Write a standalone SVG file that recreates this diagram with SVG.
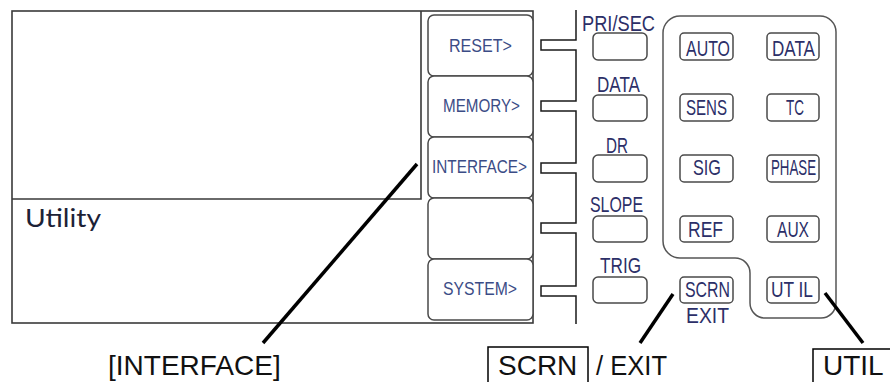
<svg xmlns="http://www.w3.org/2000/svg" width="890" height="382" viewBox="0 0 890 382">
  <style>
    .frame { fill: none; stroke: #3a3a3a; stroke-width: 1.6; }
    .soft { fill: #ffffff; stroke: #4a4a4a; stroke-width: 1.5; }
    .key { fill: #ffffff; stroke: #4a4a4a; stroke-width: 1.5; }
    .panel { fill: none; stroke: #555555; stroke-width: 1.5; }
    .bracket { fill: none; stroke: #1a1a1a; stroke-width: 1.5; }
    .pointer { fill: none; stroke: #000000; stroke-width: 3.5; stroke-linecap: butt; }
    .box { fill: none; stroke: #000000; stroke-width: 1.5; }
    .sk { font-family: "Liberation Sans", Arial, sans-serif; font-size: 19px; fill: #3b4c86; }
    .lbl { font-family: "Liberation Sans", Arial, sans-serif; font-size: 22px; fill: #2c2f68; }
    .cap { font-family: "Liberation Sans", Arial, sans-serif; font-size: 28px; fill: #111111; }
    .title { font-family: Lato, "Open Sans", sans-serif; font-size: 25px; fill: #1c2236; }
  </style>

  <!-- display screen -->
  <g id="screen">
    <rect class="frame" x="12" y="11" width="521" height="312"/>
    <path class="frame" d="M12,199 H421 V11"/>
    <text class="title" x="25" y="227" textLength="76" lengthAdjust="spacingAndGlyphs">Utility</text>
  </g>

  <!-- soft keys -->
  <g id="softkey-reset">
    <rect class="soft" x="428" y="15" width="105" height="61" rx="6"/>
    <text class="sk" x="449" y="52" textLength="63" lengthAdjust="spacingAndGlyphs">RESET&gt;</text>
  </g>
  <g id="softkey-memory">
    <rect class="soft" x="428" y="76" width="105" height="61" rx="6"/>
    <text class="sk" x="443" y="112" textLength="77" lengthAdjust="spacingAndGlyphs">MEMORY&gt;</text>
  </g>
  <g id="softkey-interface">
    <rect class="soft" x="428" y="137" width="105" height="61" rx="6"/>
    <text class="sk" x="432" y="173" textLength="95" lengthAdjust="spacingAndGlyphs">INTERFACE&gt;</text>
  </g>
  <g id="softkey-blank">
    <rect class="soft" x="428" y="198" width="105" height="61" rx="6"/>
  </g>
  <g id="softkey-system">
    <rect class="soft" x="428" y="259" width="105" height="61" rx="6"/>
    <text class="sk" x="443" y="295" textLength="74" lengthAdjust="spacingAndGlyphs">SYSTEM&gt;</text>
  </g>

  <!-- function keys beside the soft keys -->
  <g id="key-prisec">
    <text class="lbl" x="582" y="31" textLength="73" lengthAdjust="spacingAndGlyphs">PRI/SEC</text>
    <rect class="key" x="593" y="33" width="54" height="27" rx="5"/>
  </g>
  <g id="key-data-side">
    <text class="lbl" x="597" y="92" textLength="43" lengthAdjust="spacingAndGlyphs">DATA</text>
    <rect class="key" x="593" y="95" width="54" height="26" rx="5"/>
  </g>
  <g id="key-dr">
    <text class="lbl" x="606" y="153" textLength="22" lengthAdjust="spacingAndGlyphs">DR</text>
    <rect class="key" x="593" y="155" width="54" height="27" rx="5"/>
  </g>
  <g id="key-slope">
    <text class="lbl" x="590" y="212" textLength="53" lengthAdjust="spacingAndGlyphs">SLOPE</text>
    <rect class="key" x="593" y="216" width="54" height="26" rx="5"/>
  </g>
  <g id="key-trig">
    <text class="lbl" x="600" y="273" textLength="41" lengthAdjust="spacingAndGlyphs">TRIG</text>
    <rect class="key" x="593" y="277" width="54" height="26" rx="5"/>
  </g>

  <!-- key panel outline -->
  <g id="panel">
    <path class="panel" d="M663,33 A17,17 0 0 1 680,16 H820 A16,16 0 0 1 836,32 V303 A15,15 0 0 1 821,318 H765 A15,15 0 0 1 750,303 V273 A15,15 0 0 0 735,258 H680 A17,17 0 0 1 663,241 Z"/>
  </g>

  <!-- panel keys -->
  <g id="key-auto">
    <rect class="key" x="680" y="33" width="53" height="27" rx="4"/>
    <text class="lbl" x="686" y="56" textLength="44" lengthAdjust="spacingAndGlyphs">AUTO</text>
  </g>
  <g id="key-data">
    <rect class="key" x="767" y="33" width="52" height="27" rx="4"/>
    <text class="lbl" x="772" y="56" textLength="43" lengthAdjust="spacingAndGlyphs">DATA</text>
  </g>
  <g id="key-sens">
    <rect class="key" x="680" y="94" width="53" height="27" rx="4"/>
    <text class="lbl" x="686" y="115" textLength="41" lengthAdjust="spacingAndGlyphs">SENS</text>
  </g>
  <g id="key-tc">
    <rect class="key" x="767" y="94" width="52" height="27" rx="4"/>
    <text class="lbl" x="786" y="115" textLength="18" lengthAdjust="spacingAndGlyphs">TC</text>
  </g>
  <g id="key-sig">
    <rect class="key" x="680" y="155" width="53" height="27" rx="4"/>
    <text class="lbl" x="693" y="175" textLength="28" lengthAdjust="spacingAndGlyphs">SIG</text>
  </g>
  <g id="key-phase">
    <rect class="key" x="767" y="155" width="52" height="27" rx="4"/>
    <text class="lbl" x="771" y="175" textLength="45" lengthAdjust="spacingAndGlyphs">PHASE</text>
  </g>
  <g id="key-ref">
    <rect class="key" x="680" y="216" width="53" height="26" rx="4"/>
    <text class="lbl" x="688" y="237" textLength="35" lengthAdjust="spacingAndGlyphs">REF</text>
  </g>
  <g id="key-aux">
    <rect class="key" x="767" y="216" width="52" height="26" rx="4"/>
    <text class="lbl" x="777" y="237" textLength="32" lengthAdjust="spacingAndGlyphs">AUX</text>
  </g>
  <g id="key-scrn">
    <rect class="key" x="680" y="277" width="53" height="26" rx="4"/>
    <text class="lbl" x="685" y="297" textLength="45" lengthAdjust="spacingAndGlyphs">SCRN</text>
    <text class="lbl" x="686" y="323" textLength="43" lengthAdjust="spacingAndGlyphs">EXIT</text>
  </g>
  <g id="key-util">
    <rect class="key" x="767" y="277" width="52" height="26" rx="4"/>
    <text class="lbl" x="771" y="297" textLength="42" lengthAdjust="spacingAndGlyphs">UT IL</text>
  </g>

  <!-- connectors -->
  <g id="connectors">
    <path class="bracket" d="M576,10 V40 H541 V50 H576 V101 H541 V111 H576 V163 H541 V173 H576 V223 H541 V233 H576 V286 H541 V296 H576 V324"/>
    <line class="pointer" x1="417" y1="164" x2="263" y2="343"/>
    <line class="pointer" x1="673" y1="294" x2="640" y2="343"/>
    <line class="pointer" x1="825" y1="293" x2="863" y2="343"/>
  </g>

  <!-- captions -->
  <g id="caption-interface">
    <text class="cap" x="108" y="375">[INTERFACE]</text>
  </g>
  <g id="caption-scrn-exit">
    <rect class="box" x="488" y="347" width="100" height="50"/>
    <text class="cap" x="498" y="375">SCRN</text>
    <text class="cap" x="596" y="375" textLength="71" lengthAdjust="spacingAndGlyphs">/ EXIT</text>
  </g>
  <g id="caption-util">
    <rect class="box" x="813" y="349" width="100" height="50"/>
    <text class="cap" x="823" y="375">UTIL</text>
  </g>
</svg>
